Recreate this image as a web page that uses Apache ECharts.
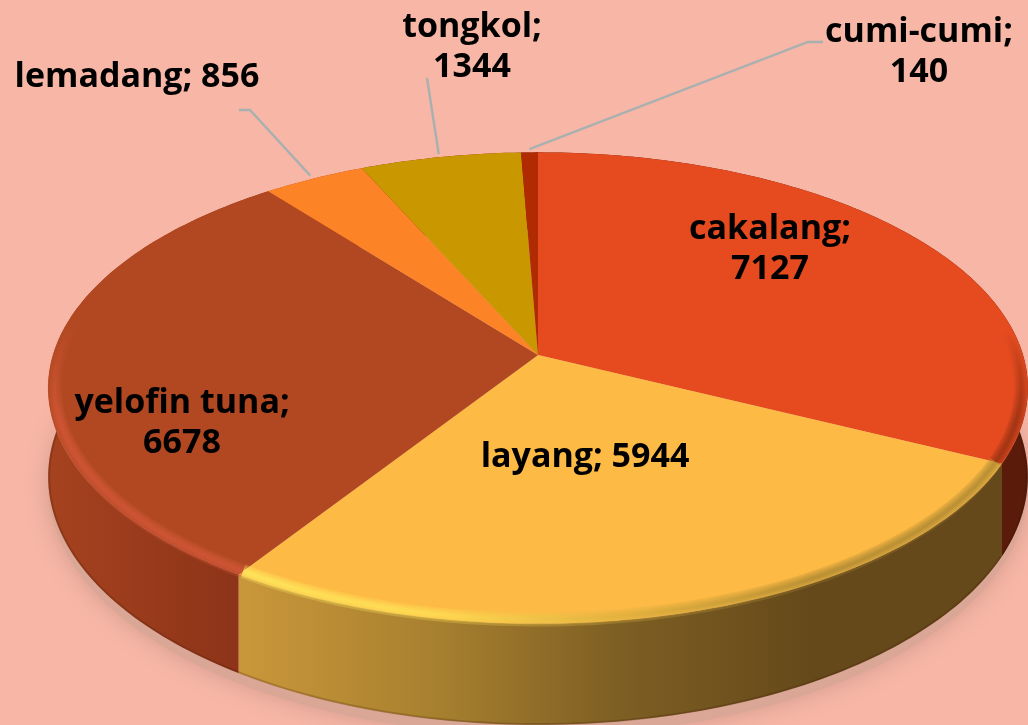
<!DOCTYPE html>
<html>
<head>
<meta charset="utf-8">
<style>
  html, body { margin: 0; padding: 0; background: #F7B6A6; }
  #pie-1 { width: 1028px; height: 725px; }
</style>
<script src="https://cdn.jsdelivr.net/npm/echarts@6/dist/echarts.min.js"></script>
</head>
<body>
<div id="pie-1"></div>
<script>
// data
var fish_names = ['cakalang', 'layang', 'yelofin tuna', 'lemadang', 'tongkol', 'cumi-cumi'];
var fish_values = [7127, 5944, 6678, 856, 1344, 140];
var label_texts = ['cakalang;\n7127', 'layang; 5944', 'yelofin tuna;\n6678', 'lemadang; 856', 'tongkol;\n1344', 'cumi-cumi;\n140'];

// look
var top_colors = ['#E64B20', '#FDBA45', '#B14822', '#FD8327', '#C99800', '#B02A02'];
var wall_fills = [
    { from: 900, to: 1028, stops: ['#5A1B0A', '#5A1B0A'] },
    { from: 245, to: 1000, stops: ['#C9973A', '#A8802F', '#7D5E23', '#66491A', '#66491A'] },
    { from: 50, to: 245, stops: ['#A5421F', '#8C3318'] },
    { from: 0, to: 1, stops: ['#B14822', '#B14822'] },
    { from: 0, to: 1, stops: ['#8C2F10', '#8C2F10'] },
    { from: 0, to: 1, stops: ['#7A1D02', '#7A1D02'] }
];
var rim_fills = [
    { from: 330, to: 420, vertical: true, stops: ['rgba(142,46,16,0)', '#8E2E10'] },
    { from: 245, to: 1000, stops: ['#FFF060', '#FFE455', '#D9AE3C', '#A5832F', '#A5832F'] },
    { from: 320, to: 420, vertical: true, stops: ['rgba(208,86,46,0)', '#D6583A'] },
    null, null, null
];
var label_centers = [[770, 249], [585, 457], [182, 423], [137, 77], [472, 47], [919, 52]];
var label_knees = [null, null, null, [[250, 110], [239, 110]], [[427, 78]], [[808, 42], [823, 42]]];

// the tilted disc
var cx = 538, cy = 355, rx = 485, ry = 231, persp = 0.14, depth = 87;
var total = fish_values.reduce(function (a, b) { return a + b; }, 0);

function sliceAngles(i) {
    var before = 0;
    for (var j = 0; j < i; j++) before += fish_values[j];
    return [before / total * 360, (before + fish_values[i]) / total * 360];
}

function project(deg, scale, drop) {
    var t = deg * Math.PI / 180, s = Math.sin(t) * scale, c = Math.cos(t) * scale;
    var den = 1 + persp * c;
    return [cx + rx * s / den, cy + (drop - ry * c) / den];
}

function arcPoints(a0, a1, scale, drop) {
    var pts = [], n = Math.max(2, Math.ceil(Math.abs(a1 - a0)));
    for (var i = 0; i <= n; i++) pts.push(project(a0 + (a1 - a0) * i / n, scale, drop));
    return pts;
}

function fillGradient(fill) {
    var n = fill.stops.length - 1;
    var stops = fill.stops.map(function (c, i) { return { offset: i / n, color: c }; });
    if (fill.vertical) return new echarts.graphic.LinearGradient(0, fill.from, 0, fill.to, stops, true);
    return new echarts.graphic.LinearGradient(fill.from, 0, fill.to, 0, stops, true);
}

var fish_data = fish_values.map(function (v, i) { return { name: fish_names[i], value: [v] }; });

function renderGround() {
    return {
        type: 'polygon',
        shape: { points: arcPoints(0, 360, 1.0, depth + 9) },
        style: { fill: '#DAA696', shadowBlur: 22, shadowColor: '#D29C8C' }
    };
}

function renderWall(params) {
    var a = sliceAngles(params.dataIndex);
    var upper = arcPoints(a[0], a[1], 1, 0);
    var lower = arcPoints(a[0], a[1], 1, depth);
    return {
        type: 'group',
        children: [{
            type: 'polygon',
            shape: { points: upper.concat(lower.reverse()) },
            style: { fill: fillGradient(wall_fills[params.dataIndex]) }
        }, {
            type: 'polyline',
            shape: { points: arcPoints(a[0], a[1], 0.998, depth) },
            style: { fill: null, stroke: 'rgba(60,25,5,0.22)', lineWidth: 2 }
        }]
    };
}

function renderTop(params) {
    var a = sliceAngles(params.dataIndex);
    return {
        type: 'polygon',
        shape: { points: [[cx, cy]].concat(arcPoints(a[0], a[1], 1, 0)) },
        style: { fill: top_colors[params.dataIndex] }
    };
}

function renderRim(params) {
    var fill = rim_fills[params.dataIndex];
    if (!fill) return null;
    var a = sliceAngles(params.dataIndex);
    // only the half of the disc that faces us gets a bevel
    var a0 = Math.max(a[0], 60), a1 = Math.min(a[1], 300);
    var pts = arcPoints(a0, a1, 0.987, 0);
    var grad = fillGradient(fill);
    var kids = [14, 10, 6, 3].map(function (w) {
        return {
            type: 'polyline',
            shape: { points: pts },
            style: { fill: null, stroke: grad, lineWidth: w, opacity: 0.28 }
        };
    });
    return { type: 'group', children: kids };
}

function renderLabel(params) {
    var i = params.dataIndex;
    var kids = [];
    if (label_knees[i]) {
        var a = sliceAngles(i);
        var anchor = project((a[0] + a[1]) / 2, 1.018, 0);
        kids.push({
            type: 'polyline',
            shape: { points: [anchor].concat(label_knees[i]) },
            style: { fill: null, stroke: '#A9B0B0', lineWidth: 2.4 }
        });
    }
    kids.push({
        type: 'text',
        x: label_centers[i][0],
        y: label_centers[i][1],
        style: {
            text: label_texts[i],
            fill: '#000',
            font: 'bold 34px "Open Sans", Lato, sans-serif',
            lineHeight: 40,
            align: 'center',
            verticalAlign: 'middle'
        }
    });
    return { type: 'group', children: kids };
}

function layer(render, data) {
    return {
        type: 'custom',
        coordinateSystem: 'none',
        silent: true,
        animation: false,
        clip: false,
        renderItem: render,
        data: data
    };
}

var myChart = echarts.init(document.getElementById('pie-1'));
var option = {
    backgroundColor: '#F7B6A6',
    animation: false,
    series: [
        layer(renderGround, [[total]]),
        layer(renderWall, fish_data),
        layer(renderTop, fish_data),
        layer(renderRim, fish_data),
        layer(renderLabel, fish_data)
    ]
};
myChart.setOption(option);
</script>
</body>
</html>
